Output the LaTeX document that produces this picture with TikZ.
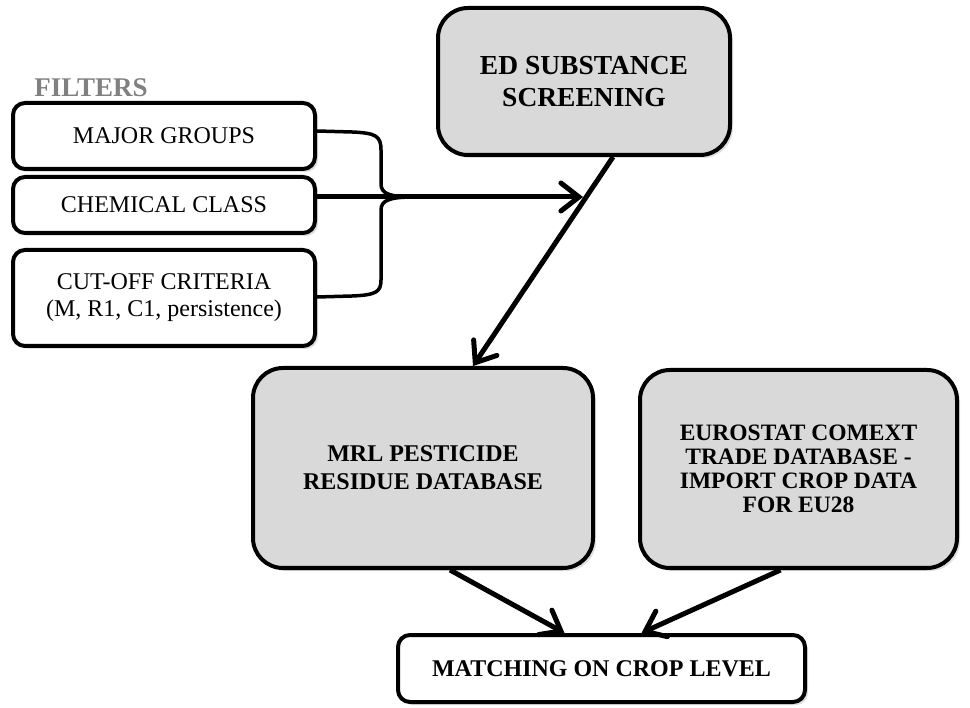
\documentclass[tikz,border=0pt]{standalone}
\usepackage{fontspec}
\setmainfont{Liberation Serif}
\usetikzlibrary{arrows.meta,shadows,calc}
\definecolor{boxgray}{RGB}{217,217,217}
\definecolor{filtergray}{RGB}{128,128,128}
\tikzset{
  box/.style={draw=black, line width=4pt, align=center, inner sep=2pt,
    drop shadow={shadow xshift=3pt, shadow yshift=-3pt, opacity=0.25}},
  whitebox/.style={box, fill=white, rounded corners=12pt},
  graybox/.style={box, fill=boxgray, rounded corners=30pt},
  conn/.style={line width=5pt, -{Straight Barb[length=18pt,width=28pt,line cap=round]}},
  bracepath/.style={line width=3.5pt},
}
\begin{document}
\begin{tikzpicture}[x=1pt,y=-1pt]
\useasboundingbox (0,0) rectangle (970,708);
\node[text=filtergray, font=\fontsize{27}{30}\selectfont\bfseries] (filters) at (91,88) {FILTERS};
\node[graybox, minimum width=292pt, minimum height=147pt,
  font=\fontsize{27.5}{32}\selectfont\bfseries] (ed) at (584,81.5) {ED SUBSTANCE\\SCREENING};
\node[whitebox, minimum width=302pt, minimum height=66pt,
  font=\fontsize{24}{27}\selectfont] (major) at (164,136) {MAJOR GROUPS};
\node[whitebox, minimum width=302pt, minimum height=56pt,
  font=\fontsize{24}{27}\selectfont] (chem) at (164,205) {CHEMICAL CLASS};
\node[whitebox, minimum width=302pt, minimum height=96pt,
  font=\fontsize{24}{27}\selectfont] (cut) at (164,298) {CUT-OFF CRITERIA\\(M, R1, C1, persistence)};
\node[graybox, minimum width=340pt, minimum height=200pt,
  font=\fontsize{24}{28}\selectfont\bfseries] (mrl) at (423,468) {MRL PESTICIDE\\RESIDUE DATABASE};
\node[graybox, minimum width=317pt, minimum height=198pt,
  font=\fontsize{23.5}{24}\selectfont\bfseries] (euro) at (798.5,469) {EUROSTAT COMEXT\\TRADE DATABASE -\\IMPORT CROP DATA\\FOR EU28};
\node[whitebox, minimum width=407pt, minimum height=67pt,
  font=\fontsize{24}{25}\selectfont\bfseries] (match) at (601.5,668.5) {MATCHING ON CROP LEVEL};
% brace
\coordinate (bj) at (415,197);
\draw[bracepath] (major.east |- 0,131) -- (352,132) .. controls (376,133) and (381,136) .. (381,150)
  -- (381,184) .. controls (381,194) and (390,197) .. (bj);
\draw[bracepath] (cut.east |- 0,297) -- (352,296) .. controls (376,295) and (381,292) .. (381,280)
  -- (381,210) .. controls (381,200) and (390,197) .. (bj);
\coordinate (tip1) at (583,197);
\draw[conn] (chem.east |- 0,197) -- (tip1);
% diagonal
\coordinate (edout) at ($(ed.south)+(29,0)$);
\coordinate (mrlin) at ($(mrl.north)+(50,0)$);
\draw[conn] (edout) -- (mrlin);
% to matching
\coordinate (mrlout) at ($(mrl.south)+(27,0)$);
\coordinate (euroout) at ($(euro.south)+(-18,0)$);
\draw[conn] (mrlout) -- ($(match.north)+(-37,0)$);
\draw[conn] (euroout) -- ($(match.north)+(40,0)$);
\end{tikzpicture}
\end{document}
